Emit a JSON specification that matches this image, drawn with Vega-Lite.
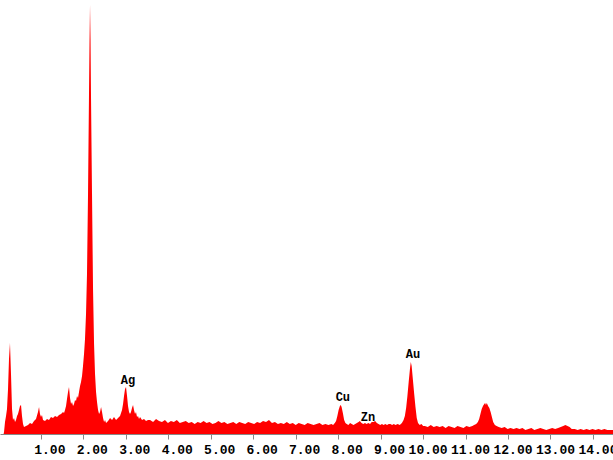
{
  "$schema": "https://vega.github.io/schema/vega-lite/v6.json",
  "width": 613,
  "height": 434,
  "autosize": {"type": "none"},
  "padding": {"top": 0, "left": 0, "right": 0, "bottom": 26},
  "background": "white",
  "config": {"view": {"stroke": null}},
  "datasets": {
    "spectrum": [
      {"e":0.12,"c":0},{"e":0.13,"c":2},{"e":0.153,"c":12},{"e":0.177,"c":18},{"e":0.2,"c":25},{"e":0.224,"c":45},{"e":0.247,"c":75},{"e":0.27,"c":91},{"e":0.294,"c":60},{"e":0.318,"c":25},{"e":0.341,"c":14},{"e":0.365,"c":16},{"e":0.389,"c":12},{"e":0.412,"c":14},{"e":0.436,"c":18},{"e":0.459,"c":20},{"e":0.483,"c":24},{"e":0.506,"c":28},{"e":0.53,"c":29},{"e":0.553,"c":18},{"e":0.577,"c":10},{"e":0.6,"c":7},{"e":0.648,"c":8},{"e":0.695,"c":9},{"e":0.742,"c":11},{"e":0.789,"c":10},{"e":0.836,"c":13},{"e":0.883,"c":15},{"e":0.93,"c":22},{"e":0.954,"c":27},{"e":0.977,"c":20},{"e":1.001,"c":17},{"e":1.024,"c":19},{"e":1.048,"c":14},{"e":1.095,"c":13},{"e":1.142,"c":15},{"e":1.189,"c":14},{"e":1.236,"c":17},{"e":1.283,"c":16},{"e":1.331,"c":18},{"e":1.378,"c":17},{"e":1.425,"c":19},{"e":1.472,"c":20},{"e":1.519,"c":22},{"e":1.543,"c":21},{"e":1.566,"c":24},{"e":1.59,"c":28},{"e":1.613,"c":35},{"e":1.637,"c":42},{"e":1.66,"c":47},{"e":1.684,"c":36},{"e":1.708,"c":30},{"e":1.731,"c":32},{"e":1.755,"c":28},{"e":1.778,"c":30},{"e":1.802,"c":34},{"e":1.825,"c":33},{"e":1.849,"c":38},{"e":1.872,"c":36},{"e":1.896,"c":42},{"e":1.92,"c":48},{"e":1.943,"c":52},{"e":1.967,"c":58},{"e":1.99,"c":68},{"e":2.014,"c":80},{"e":2.037,"c":95},{"e":2.061,"c":120},{"e":2.084,"c":160},{"e":2.108,"c":240},{"e":2.131,"c":340},{"e":2.143,"c":390},{"e":2.155,"c":429},{"e":2.167,"c":395},{"e":2.179,"c":335},{"e":2.202,"c":240},{"e":2.226,"c":145},{"e":2.25,"c":90},{"e":2.273,"c":60},{"e":2.297,"c":42},{"e":2.32,"c":32},{"e":2.344,"c":24},{"e":2.368,"c":20},{"e":2.391,"c":22},{"e":2.415,"c":27},{"e":2.438,"c":22},{"e":2.462,"c":16},{"e":2.486,"c":12},{"e":2.509,"c":14},{"e":2.533,"c":11},{"e":2.58,"c":13},{"e":2.627,"c":16},{"e":2.674,"c":14},{"e":2.72,"c":17},{"e":2.768,"c":14},{"e":2.815,"c":16},{"e":2.862,"c":18},{"e":2.909,"c":24},{"e":2.933,"c":30},{"e":2.956,"c":38},{"e":2.98,"c":45},{"e":3.003,"c":47},{"e":3.027,"c":38},{"e":3.05,"c":28},{"e":3.074,"c":22},{"e":3.097,"c":20},{"e":3.12,"c":22},{"e":3.144,"c":26},{"e":3.168,"c":29},{"e":3.191,"c":24},{"e":3.215,"c":20},{"e":3.238,"c":22},{"e":3.262,"c":17},{"e":3.286,"c":18},{"e":3.309,"c":15},{"e":3.333,"c":17},{"e":3.38,"c":14},{"e":3.427,"c":15},{"e":3.474,"c":13},{"e":3.521,"c":14},
      {"e":3.57,"c":14},{"e":3.64,"c":12},{"e":3.71,"c":15},{"e":3.78,"c":13},{"e":3.85,"c":12},{"e":3.92,"c":14},{"e":3.99,"c":11},{"e":4.06,"c":13},{"e":4.13,"c":12},{"e":4.2,"c":14},{"e":4.27,"c":11},{"e":4.34,"c":12},{"e":4.41,"c":13},{"e":4.48,"c":11},{"e":4.55,"c":12},{"e":4.62,"c":10},{"e":4.69,"c":12},{"e":4.76,"c":11},{"e":4.83,"c":13},{"e":4.9,"c":11},{"e":4.97,"c":12},{"e":5.04,"c":10},{"e":5.11,"c":11},{"e":5.18,"c":13},{"e":5.25,"c":11},{"e":5.32,"c":12},{"e":5.39,"c":10},{"e":5.46,"c":11},{"e":5.53,"c":12},{"e":5.6,"c":10},{"e":5.67,"c":12},{"e":5.74,"c":11},{"e":5.81,"c":10},{"e":5.88,"c":12},{"e":5.95,"c":11},{"e":6.02,"c":10},{"e":6.09,"c":12},{"e":6.16,"c":11},{"e":6.23,"c":13},{"e":6.3,"c":12},{"e":6.37,"c":14},{"e":6.44,"c":11},{"e":6.51,"c":12},{"e":6.58,"c":10},{"e":6.65,"c":11},{"e":6.72,"c":10},{"e":6.79,"c":12},{"e":6.86,"c":10},{"e":6.93,"c":11},{"e":7.0,"c":9},{"e":7.07,"c":11},{"e":7.14,"c":10},{"e":7.21,"c":9},{"e":7.28,"c":11},{"e":7.35,"c":10},{"e":7.42,"c":9},{"e":7.49,"c":10},{"e":7.56,"c":11},{"e":7.63,"c":9},{"e":7.7,"c":10},{"e":7.77,"c":9},
      {"e":7.84,"c":10},{"e":7.88,"c":9},{"e":7.92,"c":11},{"e":7.95,"c":13},{"e":7.98,"c":18},{"e":8.01,"c":24},{"e":8.04,"c":28},{"e":8.06,"c":29},{"e":8.08,"c":27},{"e":8.11,"c":21},{"e":8.14,"c":14},{"e":8.17,"c":11},{"e":8.2,"c":10},{"e":8.24,"c":9},{"e":8.28,"c":11},{"e":8.32,"c":10},{"e":8.36,"c":9},{"e":8.4,"c":10},{"e":8.44,"c":11},{"e":8.48,"c":12},{"e":8.51,"c":13},{"e":8.55,"c":11},{"e":8.59,"c":10},{"e":8.63,"c":11},{"e":8.67,"c":10},{"e":8.71,"c":11},{"e":8.75,"c":10},{"e":8.79,"c":12},{"e":8.83,"c":12},{"e":8.87,"c":13},{"e":8.91,"c":11},{"e":8.95,"c":10},{"e":8.99,"c":9},{"e":9.03,"c":10},{"e":9.07,"c":9},{"e":9.11,"c":10},{"e":9.15,"c":9},{"e":9.19,"c":10},{"e":9.23,"c":10},{"e":9.27,"c":9},{"e":9.31,"c":10},
      {"e":9.35,"c":9},{"e":9.4,"c":10},{"e":9.45,"c":9},{"e":9.5,"c":11},{"e":9.54,"c":14},{"e":9.57,"c":18},{"e":9.6,"c":26},{"e":9.63,"c":38},{"e":9.66,"c":52},{"e":9.69,"c":65},{"e":9.71,"c":72},{"e":9.73,"c":68},{"e":9.76,"c":54},{"e":9.79,"c":40},{"e":9.82,"c":27},{"e":9.85,"c":16},{"e":9.88,"c":11},{"e":9.92,"c":9},{"e":9.96,"c":10},{"e":10.0,"c":8},
      {"e":10.04,"c":8},{"e":10.11,"c":7},{"e":10.18,"c":9},{"e":10.25,"c":7},{"e":10.32,"c":8},{"e":10.39,"c":7},{"e":10.46,"c":8},{"e":10.53,"c":6},{"e":10.6,"c":8},{"e":10.67,"c":7},{"e":10.74,"c":6},{"e":10.81,"c":8},{"e":10.88,"c":7},{"e":10.95,"c":6},{"e":11.02,"c":8},{"e":11.09,"c":7},{"e":11.16,"c":8},
      {"e":11.2,"c":9},{"e":11.25,"c":10},{"e":11.29,"c":12},{"e":11.32,"c":15},{"e":11.35,"c":20},{"e":11.38,"c":25},{"e":11.41,"c":28},{"e":11.44,"c":30},{"e":11.46,"c":31},{"e":11.48,"c":29},{"e":11.5,"c":31},{"e":11.53,"c":28},{"e":11.56,"c":26},{"e":11.59,"c":22},{"e":11.62,"c":17},{"e":11.65,"c":12},{"e":11.69,"c":9},{"e":11.73,"c":8},{"e":11.78,"c":7},
      {"e":11.85,"c":6},{"e":11.92,"c":7},{"e":11.99,"c":5},{"e":12.06,"c":6},{"e":12.13,"c":5},{"e":12.2,"c":6},{"e":12.27,"c":5},{"e":12.34,"c":6},{"e":12.41,"c":4},{"e":12.48,"c":5},{"e":12.55,"c":6},{"e":12.62,"c":4},{"e":12.69,"c":5},{"e":12.76,"c":6},{"e":12.83,"c":5},{"e":12.9,"c":4},{"e":12.97,"c":5},{"e":13.04,"c":6},{"e":13.11,"c":5},
      {"e":13.18,"c":6},{"e":13.24,"c":7},{"e":13.3,"c":8},{"e":13.35,"c":9},{"e":13.4,"c":8},{"e":13.45,"c":7},{"e":13.5,"c":5},{"e":13.57,"c":5},{"e":13.64,"c":4},{"e":13.71,"c":5},{"e":13.78,"c":4},{"e":13.85,"c":5},{"e":13.92,"c":4},{"e":13.99,"c":5},{"e":14.06,"c":4},{"e":14.13,"c":5},{"e":14.2,"c":4},{"e":14.27,"c":5},{"e":14.34,"c":4},{"e":14.41,"c":4},{"e":14.48,"c":4}
    ],
    "labels": [
      {"e":3.05,"c":54,"t":"Ag"},
      {"e":8.11,"c":37,"t":"Cu"},
      {"e":8.70,"c":17,"t":"Zn"},
      {"e":9.76,"c":80,"t":"Au"}
    ]
  },
  "layer": [
    {
      "data": {"name": "spectrum"},
      "mark": {"type": "area", "color": "#ff0000", "interpolate": "linear", "clip": true},
      "encoding": {
        "x": {
          "field": "e", "type": "quantitative",
          "scale": {"domain": [0.035, 14.472], "nice": false, "zero": false},
          "axis": {
            "title": null, "grid": false,
            "values": [1,2,3,4,5,6,7,8,9,10,11,12,13,14],
            "format": ".2f",
            "labelFont": "Liberation Mono, DejaVu Sans Mono, monospace", "labelFontWeight": "bold", "labelFontSize": 13,
            "labelColor": "#000000", "labelAlign": "right", "labelOffset": 24,
            "labelBaseline": "top", "labelPadding": 4,
            "labelOverlap": false, "labelBound": false, "labelFlush": false,
            "tickColor": "#888888", "tickSize": 5, "domainColor": "#888888", "domainWidth": 1
          }
        },
        "y": {
          "field": "c", "type": "quantitative",
          "scale": {"domain": [0, 434], "nice": false},
          "axis": null
        }
      }
    },
    {
      "data": {"name": "labels"},
      "mark": {"type": "text", "font": "Liberation Mono, DejaVu Sans Mono, monospace", "fontWeight": "bold", "fontSize": 12, "color": "#000000", "baseline": "middle", "align": "center"},
      "encoding": {
        "x": {"field": "e", "type": "quantitative"},
        "y": {"field": "c", "type": "quantitative"},
        "text": {"field": "t"}
      }
    }
  ]
}
